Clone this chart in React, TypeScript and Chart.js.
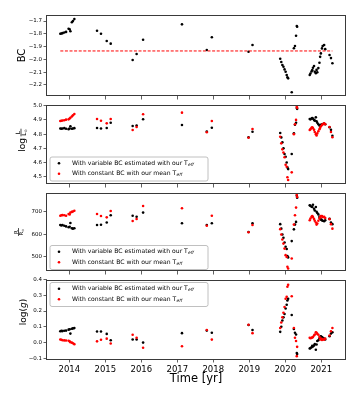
import React, { useEffect, useRef } from "react";
import { Chart, registerables } from "chart.js";

Chart.register(...registerables);

const FONT = "'DejaVu Sans', sans-serif";
const W = 360;
const H = 400;
const PLOT_LEFT = 47;
const PLOT_RIGHT = 345;
const X_AXIS_H = 30;

const yearTicks = [2014, 2015, 2016, 2017, 2018, 2019, 2020, 2021];
const xMin = 2013.38;
const xMax = 2021.66;

const years = [
  2013.75, 2013.78, 2013.81, 2013.86, 2013.91, 2013.98, 2014.01, 2014.03, 2014.07, 2014.10, 2014.14,
  2014.77, 2014.88, 2015.04, 2015.15,
  2015.76, 2015.87, 2016.05,
  2017.13, 2017.82, 2017.96, 2018.98, 2019.09,
  2019.86, 2019.89, 2019.92, 2019.95, 2019.98, 2020.01, 2020.04, 2020.06, 2020.08, 2020.18,
  2020.24, 2020.27, 2020.30, 2020.32, 2020.33,
  2020.68, 2020.70, 2020.73, 2020.75, 2020.77, 2020.80, 2020.82, 2020.85, 2020.87, 2020.89, 2020.92,
  2020.95, 2020.97, 2020.99, 2021.02, 2021.04, 2021.08, 2021.11, 2021.23, 2021.27, 2021.31,
];

const bcVar = [
  -1.8, -1.798, -1.795, -1.79, -1.785, -1.76, -1.765, -1.78, -1.71, -1.7, -1.685,
  -1.776, -1.8, -1.856, -1.877,
  -2.005, -1.958, -1.846,
  -1.726, -1.927, -1.827, -1.94, -1.888,
  -1.995, -2.02, -2.044, -2.057, -2.078, -2.096, -2.122, -2.14, -2.148, -2.257,
  -1.913, -1.895, -1.815, -1.739, -1.745,
  -2.122, -2.11, -2.095, -2.084, -2.065, -2.052, -2.096, -2.108, -2.082, -2.1, -2.068,
  -2.026, -1.98, -1.953, -1.914, -1.895, -1.887, -1.92, -1.966, -1.99, -2.03,
];
const bcMean = -1.934;

const logLVar = [
  4.84, 4.838, 4.84, 4.842, 4.838, 4.835, 4.84, 4.855, 4.838, 4.84, 4.842,
  4.843, 4.84, 4.843, 4.88,
  4.857, 4.86, 4.905,
  4.864, 4.818, 4.845, 4.778, 4.817,
  4.808, 4.777, 4.742, 4.7, 4.66, 4.64, 4.6, 4.566, 4.554, 4.66,
  4.806, 4.866, 4.88, 4.984, 4.978,
  4.906, 4.904, 4.91, 4.913, 4.908, 4.9, 4.895, 4.918, 4.89, 4.88, 4.87,
  4.86, 4.862, 4.865, 4.868, 4.871, 4.875, 4.87, 4.848, 4.83, 4.789,
];
const logLConst = [
  4.892, 4.894, 4.896, 4.898, 4.902, 4.904, 4.91, 4.915, 4.924, 4.932, 4.942,
  4.906, 4.894, 4.876, 4.906,
  4.829, 4.85, 4.94,
  4.951, 4.813, 4.892, 4.775, 4.836,
  4.782, 4.735, 4.693, 4.67, 4.637, 4.585, 4.57, 4.496, 4.477, 4.531,
  4.8, 4.87, 4.9, 4.993, 4.985,
  4.829, 4.835, 4.845, 4.848, 4.842, 4.83, 4.815, 4.8, 4.79, 4.805, 4.82,
  4.835, 4.845, 4.855, 4.865, 4.87, 4.876, 4.87, 4.85, 4.815, 4.778,
];

const rVar = [
  641, 639, 641, 638, 635, 631, 633, 650, 627, 625, 627,
  641, 642, 652, 684,
  682, 678, 696,
  649, 641, 649, 610, 649,
  645, 625, 599, 585, 564, 545, 535, 504, 498, 570,
  622, 643, 655, 770, 762,
  728, 726, 722, 721, 731, 713, 705, 721, 700, 694, 688,
  677, 670, 665, 662, 660, 658, 662, 669, 652, 645,
];
const rConst = [
  682, 684, 685, 684, 682, 690, 688, 696, 699, 701, 704,
  690, 681, 675, 703,
  659, 668, 725,
  715, 638, 682, 609, 641,
  623, 599, 577, 559, 537, 508, 500, 457, 449, 493,
  643, 684, 718, 775, 765,
  662, 670, 678, 681, 676, 668, 660, 652, 643, 648, 660,
  670, 676, 681, 681, 676, 678, 672, 667, 645, 625,
];

const loggVar = [
  0.072, 0.074, 0.073, 0.075, 0.076, 0.082, 0.085, 0.057, 0.088, 0.09, 0.092,
  0.07, 0.07, 0.055, 0.015,
  0.02, 0.02, 0.0,
  0.06, 0.076, 0.062, 0.112, 0.08,
  0.068, 0.1, 0.14, 0.16, 0.181, 0.216, 0.24, 0.267, 0.278, 0.175,
  0.086, 0.062, 0.051, -0.066, -0.072,
  -0.037, -0.035, -0.03, -0.021, -0.025, -0.018, -0.01, -0.045, -0.012, 0.01, 0.015,
  0.025, 0.037, 0.04, 0.035, 0.03, 0.025, 0.02, 0.04, 0.057, 0.065,
];
const loggConst = [
  0.02, 0.018, 0.015, 0.014, 0.013, 0.012, 0.008, 0.002, 0.0, -0.004, -0.01,
  0.008, 0.018, 0.025, -0.006,
  0.05, 0.031, -0.033,
  -0.023, 0.08, 0.019, 0.113, 0.06,
  0.093, 0.127, 0.16, 0.189, 0.226, 0.278, 0.29, 0.354, 0.366, 0.294,
  0.093, 0.031, 0.01, -0.086, -0.027,
  0.031, 0.028, 0.03, 0.032, 0.035, 0.045, 0.051, 0.065, 0.062, 0.055, 0.05,
  0.035, 0.02, 0.025, 0.016, 0.022, 0.018, 0.025, 0.045, 0.072, 0.093,
];

const bcTicks = [-2.2, -2.1, -2.0, -1.9, -1.8, -1.7];
const logLTicks = [4.5, 4.6, 4.7, 4.8, 4.9, 5.0];
const rTicks = [500, 600, 700];
const loggTicks = [-0.1, 0.0, 0.1, 0.2, 0.3, 0.4];

const legendVar = "With variable BC estimated with our T";
const legendConst = "With constant BC with our mean T";
const legendSub = "eff";
const xTitle = "Time [yr]";

const BLACK = "#000000";
const RED = "#ff0000";
const AXIS_COLOR = "#3a3a3a";

const fmt = (v: number, dec: number) => v.toFixed(dec).replace("-", "\u2212");
const pts = (vals: number[]) => years.map((x, i) => ({ x, y: vals[i] }));

type Panel = {
  top: number;
  bottom: number;
  yMin: number;
  yMax: number;
  yTicks: number[];
  dec: number;
  series: { values: number[]; color: string }[];
  legendTop: number | null;
  xLabels: boolean;
  mean: boolean;
  label: (ctx: CanvasRenderingContext2D) => void;
};

function drawBC(ctx: CanvasRenderingContext2D) {
  ctx.save();
  ctx.translate(22.5, 55.5);
  ctx.rotate(-Math.PI / 2);
  ctx.font = `10px ${FONT}`;
  ctx.textAlign = "center";
  ctx.textBaseline = "middle";
  ctx.fillStyle = "#000";
  ctx.fillText("BC", 0, 0);
  ctx.restore();
}

function drawFrac(
  ctx: CanvasRenderingContext2D,
  u: number,
  v: number,
  sym: string,
  size: number
) {
  // u: center along the rotated axis, v: bar position
  ctx.font = `${size}px ${FONT}`;
  const wNum = ctx.measureText(sym).width;
  ctx.font = `${size}px ${FONT}`;
  const wDen = wNum + size * 0.55;
  const barW = Math.max(wNum, wDen) + 1;
  ctx.fillStyle = "#000";
  ctx.textBaseline = "alphabetic";
  ctx.textAlign = "left";
  ctx.fillText(sym, u - wNum / 2, v - 1);
  ctx.fillRect(u - barW / 2, v - 0.35, barW, 0.7);
  ctx.fillText(sym, u - wDen / 2, v + size * 0.78);
  // sun symbol as subscript
  ctx.font = `${size * 0.6}px ${FONT}`;
  ctx.fillText("\u2299", u - wDen / 2 + wNum + 0.2, v + size * 0.98);
}

function drawLogL(ctx: CanvasRenderingContext2D) {
  ctx.save();
  ctx.translate(22, 138);
  ctx.rotate(-Math.PI / 2);
  ctx.fillStyle = "#000";
  ctx.font = `9px ${FONT}`;
  ctx.textAlign = "right";
  ctx.textBaseline = "alphabetic";
  ctx.fillText("log", 0, 3);
  drawFrac(ctx, 5.5, -1, "L", 6);
  ctx.restore();
}

function drawR(ctx: CanvasRenderingContext2D) {
  ctx.save();
  ctx.translate(19, 232);
  ctx.rotate(-Math.PI / 2);
  drawFrac(ctx, 0, -0.5, "R", 5.5);
  ctx.restore();
}

function drawLogg(ctx: CanvasRenderingContext2D) {
  ctx.save();
  ctx.translate(25.5, 312);
  ctx.rotate(-Math.PI / 2);
  ctx.fillStyle = "#000";
  ctx.textBaseline = "alphabetic";
  ctx.textAlign = "left";
  const size = 9;
  ctx.font = `${size}px ${FONT}`;
  const a = "log(";
  const wa = ctx.measureText(a).width;
  ctx.font = `oblique ${size}px ${FONT}`;
  const wg = ctx.measureText("g").width;
  ctx.font = `${size}px ${FONT}`;
  const wc = ctx.measureText(")").width;
  const total = wa + wg + wc;
  let u = -total / 2;
  ctx.fillText(a, u, 0);
  u += wa;
  ctx.font = `oblique ${size}px ${FONT}`;
  ctx.fillText("g", u, 0);
  u += wg;
  ctx.font = `${size}px ${FONT}`;
  ctx.fillText(")", u, 0);
  ctx.restore();
}

function drawLegend(ctx: CanvasRenderingContext2D, x: number, y: number) {
  const w = 158;
  const h = 24;
  ctx.save();
  ctx.beginPath();
  const r = 2;
  ctx.moveTo(x + r, y);
  ctx.lineTo(x + w - r, y);
  ctx.arcTo(x + w, y, x + w, y + r, r);
  ctx.lineTo(x + w, y + h - r);
  ctx.arcTo(x + w, y + h, x + w - r, y + h, r);
  ctx.lineTo(x + r, y + h);
  ctx.arcTo(x, y + h, x, y + h - r, r);
  ctx.lineTo(x, y + r);
  ctx.arcTo(x, y, x + r, y, r);
  ctx.closePath();
  ctx.fillStyle = "rgba(255,255,255,0.8)";
  ctx.fill();
  ctx.strokeStyle = "#b0b0b0";
  ctx.lineWidth = 0.8;
  ctx.stroke();
  const rows = [
    { color: BLACK, text: legendVar },
    { color: RED, text: legendConst },
  ];
  rows.forEach((row, i) => {
    const cy = y + 6.2 + i * 10.5;
    ctx.beginPath();
    ctx.fillStyle = row.color;
    ctx.arc(x + 9, cy, 1.3, 0, Math.PI * 2);
    ctx.fill();
    ctx.fillStyle = "#000";
    ctx.font = `6.1px ${FONT}`;
    ctx.textAlign = "left";
    ctx.textBaseline = "middle";
    ctx.fillText(row.text, x + 22, cy);
    const tw = ctx.measureText(row.text).width;
    ctx.font = `oblique 4.3px ${FONT}`;
    ctx.fillText(legendSub, x + 22 + tw + 0.2, cy + 1.6);
  });
  ctx.restore();
}

const panels: Panel[] = [
  {
    top: 15,
    bottom: 96,
    yMin: -2.286,
    yMax: -1.653,
    yTicks: bcTicks,
    dec: 1,
    series: [{ values: bcVar, color: BLACK }],
    legendTop: null,
    xLabels: false,
    mean: true,
    label: drawBC,
  },
  {
    top: 105,
    bottom: 184,
    yMin: 4.449,
    yMax: 5.005,
    yTicks: logLTicks,
    dec: 1,
    series: [
      { values: logLVar, color: BLACK },
      { values: logLConst, color: RED },
    ],
    legendTop: 157,
    xLabels: false,
    mean: false,
    label: drawLogL,
  },
  {
    top: 193,
    bottom: 271,
    yMin: 438,
    yMax: 782.6,
    yTicks: rTicks,
    dec: 0,
    series: [
      { values: rVar, color: BLACK },
      { values: rConst, color: RED },
    ],
    legendTop: 245.5,
    xLabels: false,
    mean: false,
    label: drawR,
  },
  {
    top: 279.5,
    bottom: 359,
    yMin: -0.104,
    yMax: 0.4,
    yTicks: loggTicks,
    dec: 1,
    series: [
      { values: loggVar, color: BLACK },
      { values: loggConst, color: RED },
    ],
    legendTop: 282.5,
    xLabels: true,
    mean: false,
    label: drawLogg,
  },
];

function buildChart(canvas: HTMLCanvasElement, p: Panel) {
  const datasets: any[] = [];
  if (p.mean) {
    datasets.push({
      data: [
        { x: years[0], y: bcMean },
        { x: years[years.length - 1], y: bcMean },
      ],
      showLine: true,
      borderColor: RED,
      borderWidth: 1,
      borderDash: [3, 1.6],
      pointRadius: 0,
      order: 0,
    });
  }
  p.series.forEach((s, i) => {
    datasets.push({
      data: pts(s.values),
      backgroundColor: s.color,
      borderWidth: 0,
      pointRadius: 1.3,
      pointHoverRadius: 1.3,
      order: 10 - i,
    });
  });

  const decor = {
    id: "decor" + p.top,
    afterDraw(chart: any) {
      const ctx: CanvasRenderingContext2D = chart.ctx;
      const a = chart.chartArea;
      ctx.save();
      ctx.strokeStyle = AXIS_COLOR;
      ctx.lineWidth = 1;
      ctx.strokeRect(
        Math.round(a.left) - 0.5,
        Math.round(a.top) + 0.5,
        Math.round(a.right - a.left) + 1,
        Math.round(a.bottom - a.top) - 1
      );
      ctx.restore();
      if (p.legendTop !== null) drawLegend(ctx, 50, p.legendTop);
      p.label(ctx);
      if (p.xLabels) {
        ctx.save();
        ctx.fillStyle = "#000";
        ctx.font = `11.5px ${FONT}`;
        ctx.textAlign = "center";
        ctx.textBaseline = "middle";
        ctx.fillText(xTitle, (a.left + a.right) / 2, 379);
        ctx.restore();
      }
    },
  };

  const grid = {
    display: true,
    drawOnChartArea: false,
    drawTicks: true,
    tickLength: 3.5,
    color: AXIS_COLOR,
    lineWidth: 0.8,
  };

  return new Chart(canvas, {
    type: "scatter",
    data: { datasets },
    options: {
      responsive: false,
      animation: false,
      devicePixelRatio: 1,
      events: [],
      layout: {
        padding: {
          top: p.top,
          bottom: H - p.bottom - X_AXIS_H,
          left: 0,
          right: W - PLOT_RIGHT,
        },
      },
      plugins: {
        legend: { display: false },
        tooltip: { enabled: false },
        title: { display: false },
      },
      scales: {
        x: {
          type: "linear",
          min: xMin,
          max: xMax,
          afterFit: (s: any) => {
            s.height = X_AXIS_H;
          },
          afterBuildTicks: (s: any) => {
            s.ticks = yearTicks.map((v) => ({ value: v }));
          },
          grid,
          border: { display: false },
          ticks: {
            display: p.xLabels,
            color: "#000",
            font: { family: FONT, size: 8.5 },
            padding: 2,
            maxRotation: 0,
            autoSkip: false,
            callback: (v: any) => String(v),
          },
        },
        y: {
          type: "linear",
          min: p.yMin,
          max: p.yMax,
          afterFit: (s: any) => {
            s.width = PLOT_LEFT;
          },
          afterBuildTicks: (s: any) => {
            s.ticks = p.yTicks.map((v) => ({ value: v }));
          },
          grid,
          border: { display: false },
          ticks: {
            color: "#000",
            font: { family: FONT, size: 5.5 },
            padding: 1.5,
            autoSkip: false,
            callback: (v: any) => fmt(Number(v), p.dec),
          },
        },
      },
    },
    plugins: [decor],
  } as any);
}

export default function App() {
  const refs = [
    useRef<HTMLCanvasElement>(null),
    useRef<HTMLCanvasElement>(null),
    useRef<HTMLCanvasElement>(null),
    useRef<HTMLCanvasElement>(null),
  ];
  useEffect(() => {
    const charts = panels.map((p, i) => buildChart(refs[i].current!, p));
    return () => charts.forEach((c) => c.destroy());
  }, []);
  return (
    <div
      style={{
        position: "fixed",
        left: 0,
        top: 0,
        width: W,
        height: H,
        background: "#fff",
      }}
    >
      {refs.map((r, i) => (
        <canvas
          key={i}
          ref={r}
          width={W}
          height={H}
          style={{ position: "absolute", left: 0, top: 0, width: W, height: H }}
        />
      ))}
    </div>
  );
}
